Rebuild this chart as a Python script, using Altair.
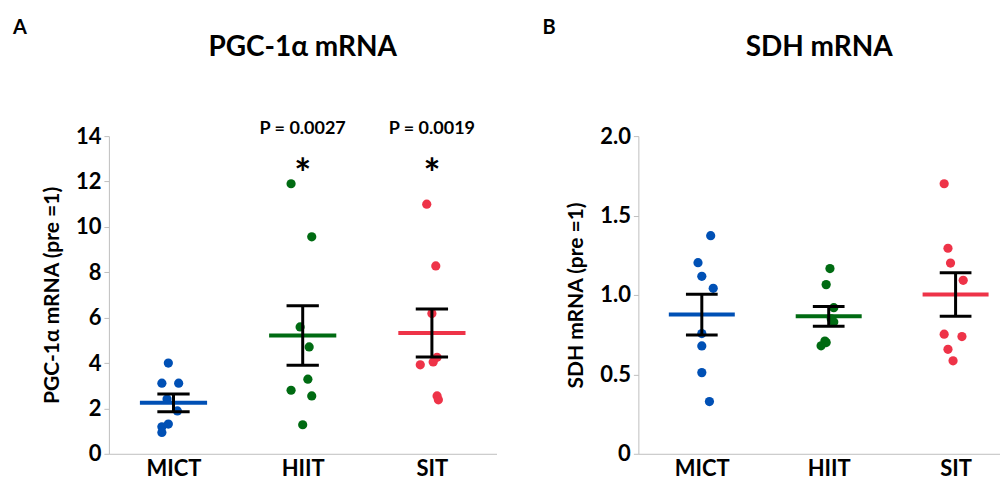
import altair as alt
import pandas as pd

FONT = "Lato"
GROUPS = ["MICT", "HIIT", "SIT"]
COLORS = ["#0050B5", "#006B12", "#EE3348"]

# Panel A: PGC-1alpha mRNA (fold change, pre = 1)
pgc_group = ["MICT"] * 8 + ["HIIT"] * 8 + ["SIT"] * 8
pgc_value = [4.0, 3.11, 3.11, 2.41, 1.89, 1.31, 1.19, 0.94,
             11.9, 9.56, 5.59, 4.71, 3.29, 2.80, 2.55, 1.28,
             11.0, 8.28, 6.18, 4.25, 4.05, 3.92, 2.55, 2.38]
pgc_jitter = [-0.04, -0.09, 0.04, -0.05, 0.03, -0.04, -0.09, -0.09,
              -0.09, 0.07, -0.02, 0.05, 0.04, -0.09, 0.07, 0.0,
              -0.04, 0.03, 0.0, 0.04, 0.01, -0.09, 0.04, 0.05]

# Panel B: SDH mRNA (fold change, pre = 1)
sdh_group = ["MICT"] * 8 + ["HIIT"] * 8 + ["SIT"] * 8
sdh_value = [1.373, 1.203, 1.117, 1.042, 0.757, 0.679, 0.511, 0.329,
             1.166, 1.065, 0.92, 0.85, 0.83, 0.71, 0.70, 0.68,
             1.70, 1.294, 1.201, 1.092, 0.753, 0.738, 0.658, 0.585]
sdh_jitter = [0.07, -0.03, 0.0, 0.09, 0.0, 0.0, 0.0, 0.06,
              0.01, -0.02, 0.04, 0.02, 0.04, -0.03, -0.02, -0.06,
              -0.09, -0.06, -0.04, 0.06, -0.09, 0.05, -0.06, -0.02]

# Significance annotations (panel A)
sig_group = ["HIIT", "SIT"]
sig_label = ["P = 0.0027", "P = 0.0019"]
sig_p_y = [14.3, 14.3]
sig_star_y = [12.25, 12.25]

IDX = "indexof(['MICT','HIIT','SIT'], datum.group)"
color = alt.Color("group:N", scale=alt.Scale(domain=GROUPS, range=COLORS), legend=None)


def panel(groups, values, jitter, ydomain, yvalues, ylabelexpr, ytitle, title,
          letter, width, xdomain, extra=None):
    df = pd.DataFrame({"group": groups, "value": values, "jitter": jitter})
    base = alt.Chart(df)
    xax = alt.Axis(values=[0, 1, 2], labelExpr="['MICT','HIIT','SIT'][datum.value]",
                   ticks=False, grid=False, domainColor="#bfbfbf", labelFontSize=22,
                   labelFontWeight="bold", labelFont=FONT, labelColor="black",
                   labelPadding=5, title=None)
    yax = alt.Axis(values=yvalues, labelExpr=ylabelexpr, grid=False, domainColor="#bfbfbf",
                   tickColor="#bfbfbf", tickSize=5, labelFontSize=22, labelFontWeight="bold",
                   labelFont=FONT, labelColor="black", labelPadding=3, title=ytitle,
                   titleFontSize=21, titleFont=FONT, titleFontWeight="bold",
                   titleColor="black", titlePadding=13)
    xs = alt.Scale(domain=xdomain, nice=False, zero=False)
    ys = alt.Scale(domain=ydomain, nice=False)

    pts = base.transform_calculate(xi=IDX + " + datum.jitter").mark_circle(
        size=85, opacity=1).encode(
        x=alt.X("xi:Q", scale=xs, axis=xax),
        y=alt.Y("value:Q", scale=ys, axis=yax),
        color=color)

    agg = base.transform_aggregate(
        mean="mean(value)", sem="stderr(value)", groupby=["group"]
    ).transform_calculate(
        xi=IDX, lo="datum.mean - datum.sem", hi="datum.mean + datum.sem",
        m1=IDX + " - 0.26", m2=IDX + " + 0.26",
        c1=IDX + " - 0.125", c2=IDX + " + 0.125")

    mean_line = agg.mark_rule(strokeWidth=4).encode(
        x=alt.X("m1:Q", scale=xs), x2="m2:Q", y=alt.Y("mean:Q", scale=ys), color=color)
    err = agg.mark_rule(strokeWidth=3, color="black").encode(
        x=alt.X("xi:Q", scale=xs), y=alt.Y("lo:Q", scale=ys), y2="hi:Q")
    cap_lo = agg.mark_rule(strokeWidth=3, color="black").encode(
        x=alt.X("c1:Q", scale=xs), x2="c2:Q", y=alt.Y("lo:Q", scale=ys))
    cap_hi = agg.mark_rule(strokeWidth=3, color="black").encode(
        x=alt.X("c1:Q", scale=xs), x2="c2:Q", y=alt.Y("hi:Q", scale=ys))

    tdf = pd.DataFrame({"t": [title]})
    ttl = alt.Chart(tdf).mark_text(font=FONT, fontSize=28, fontWeight="bold",
                                   color="black", align="center", baseline="middle").encode(
        x=alt.value(width / 2), y=alt.value(-88), text="t:N")
    ldf = pd.DataFrame({"t": [letter]})
    let = alt.Chart(ldf).mark_text(font=FONT, fontSize=20, fontWeight="bold",
                                   color="black", align="left", baseline="middle").encode(
        x=alt.value(-96), y=alt.value(-108), text="t:N")

    layers = [pts, mean_line, err, cap_lo, cap_hi, ttl, let]
    if extra is not None:
        layers += extra(xs, ys)
    return alt.layer(*layers).properties(width=width, height=318)


def sig_layers(xs, ys):
    sdf = pd.DataFrame({"group": sig_group, "label": sig_label,
                        "py": sig_p_y, "sy": sig_star_y})
    b = alt.Chart(sdf).transform_calculate(xi=IDX)
    ptxt = b.mark_text(font=FONT, fontSize=18, fontWeight="bold", color="black",
                       baseline="middle").encode(
        x=alt.X("xi:Q", scale=xs), y=alt.Y("py:Q", scale=ys), text="label:N")
    star = b.mark_text(font=FONT, fontSize=40, fontWeight="bold", color="black",
                       baseline="middle", text="*").encode(
        x=alt.X("xi:Q", scale=xs), y=alt.Y("sy:Q", scale=ys))
    return [ptxt, star]


left = panel(pgc_group, pgc_value, pgc_jitter, [0, 14], list(range(0, 15, 2)),
             "datum.value", "PGC-1α mRNA (pre =1)", "PGC-1α mRNA", "A", 388,
             [-0.5, 2.5], extra=sig_layers)
right = panel(sdh_group, sdh_value, sdh_jitter, [0, 2],
              [0, 0.25, 0.5, 0.75, 1.0, 1.25, 1.5, 1.75, 2.0],
              "datum.value == 0 ? '0' : (datum.value * 2 % 1 == 0 ? format(datum.value, '.1f') : '')",
              "SDH mRNA (pre =1)", "SDH mRNA", "B", 362, [-0.5, 2.35])

chart = alt.hconcat(left, right, spacing=46).properties(
    padding={"left": 5, "top": 10, "right": 0, "bottom": 0}
).configure_view(stroke=None)

chart.save("out.html", embed_options={"renderer": "svg", "actions": False})
